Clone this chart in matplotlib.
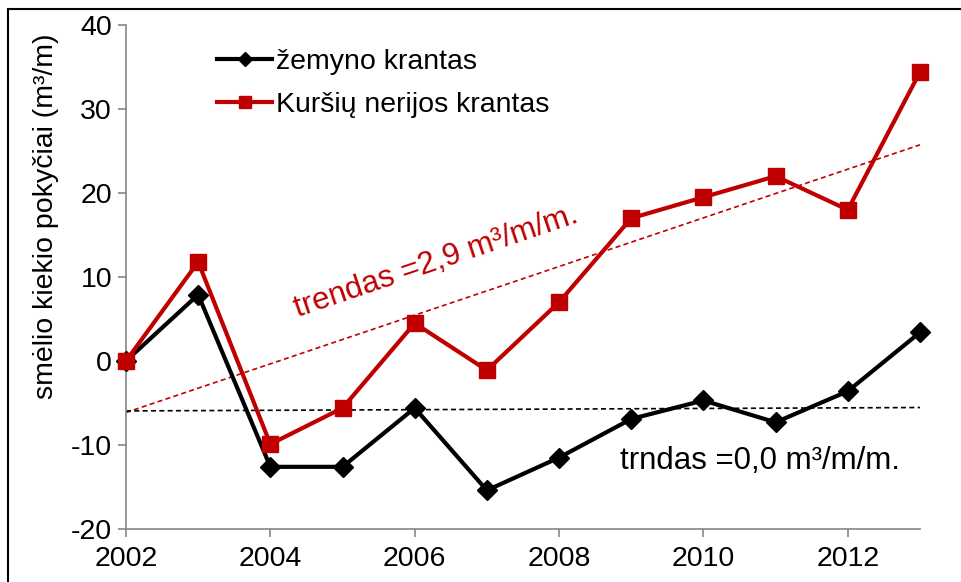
import numpy as np
import matplotlib
matplotlib.use("Agg")
import matplotlib.pyplot as plt
from matplotlib.patches import Rectangle

plt.rcParams['font.family'] = ['Liberation Sans', 'DejaVu Sans']
plt.rcParams['axes.unicode_minus'] = False

# data
years = [2002, 2003, 2004, 2005, 2006, 2007, 2008, 2009, 2010, 2011, 2012, 2013]
zemyno = [0, 7.9, -12.6, -12.6, -5.6, -15.4, -11.5, -6.9, -4.7, -7.3, -3.6, 3.4]
kursiu = [0, 11.8, -9.9, -5.6, 4.5, -1.1, 7.0, 17.0, 19.5, 22.0, 18.0, 34.4]
xticks = [2002, 2004, 2006, 2008, 2010, 2012]
yticks = [-20, -10, 0, 10, 20, 30, 40]

red = '#C00000'
grey = '#868686'
fs = 20.5

fig = plt.figure(figsize=(9.61, 5.82), dpi=100)
ax = fig.add_axes([0.1311, 0.0911, 0.8262, 0.8659])

x = np.array(years)
# linear trend lines
k_fit = np.polyfit(x, kursiu, 1)
z_fit = np.polyfit(x, zemyno, 1)
ax.plot(x, np.polyval(k_fit, x), color=red, lw=1.2, ls=(0, (3, 2)))
ax.plot(x, np.polyval(z_fit, x), color='black', lw=1.2, ls=(0, (3, 2)))

ax.plot(years, zemyno, color='black', lw=3, marker='D', ms=10,
        label='žemyno krantas', zorder=3, clip_on=False)
ax.plot(years, kursiu, color=red, lw=3, marker='s', ms=12,
        label='Kuršių nerijos krantas', zorder=3, clip_on=False)

ax.set_xlim(2002, 2013)
ax.set_ylim(-20, 40)
ax.set_xticks(xticks)
ax.set_yticks(yticks)
ax.tick_params(labelsize=fs, color=grey, length=6, width=1.2, direction='out')
ax.tick_params(axis='x', pad=6)
ax.tick_params(axis='y', pad=4)
for s in ['top', 'right']:
    ax.spines[s].set_visible(False)
for s in ['left', 'bottom']:
    ax.spines[s].set_color(grey)
    ax.spines[s].set_linewidth(1.2)

ax.set_ylabel('smėlio kiekio pokyčiai (m³/m)', fontsize=fs)
ax.yaxis.set_label_coords(-0.084, 0.62)

ax.text(2006.3, 11.8, 'trendas =2,9 m³/m/m.', color=red, fontsize=22.5,
        rotation=18.7, rotation_mode='anchor', ha='center', va='center')
ax.text(2010.78, -11.9, 'trndas =0,0 m³/m/m.', color='black', fontsize=22.5,
        ha='center', va='center')

leg = ax.legend(loc='upper left', bbox_to_anchor=(0.1, 0.975), fontsize=fs,
                frameon=False, handlelength=1.95, handletextpad=0.12,
                labelspacing=0.6, markerscale=0.75, borderaxespad=0)

fig.patches.append(Rectangle((8 / 961, -0.1), 1.2, 1 - 9 / 582 + 0.1,
                             transform=fig.transFigure, fill=False,
                             edgecolor='black', lw=1.5))

fig.savefig('out.png', dpi=100)
